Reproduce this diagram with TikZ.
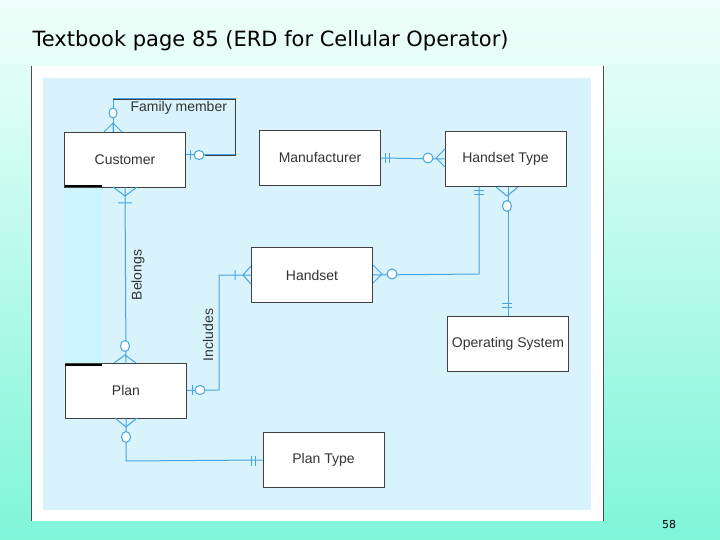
\documentclass[tikz,border=0pt]{standalone}
\usepackage{fontspec}
\setmainfont{Liberation Sans}
\newfontfamily\titlefont{DejaVu Sans}
\begin{document}
\begin{tikzpicture}[x=1pt,y=-1pt,
  ent/.style={draw=black!75,fill=white,line width=0.9pt,minimum width=121pt,minimum height=55pt,inner sep=0pt,font=\fontsize{14}{16}\selectfont,text=black!80},
  rel/.style={draw=cyan!75!blue!75,line width=1pt},
  circ/.style={rel,fill=white},
  lab/.style={font=\fontsize{14}{16}\selectfont,text=black!80,rotate=90}]
\definecolor{slideA}{HTML}{F0FFFA}\definecolor{slideB}{HTML}{7FF5DA}
\shade[top color=slideA,bottom color=slideB,shading angle=0] (0,0) rectangle (720,540);
\useasboundingbox (0,0) rectangle (720,540);
\node[anchor=west,font=\titlefont\fontsize{21}{24}\selectfont] (title) at (29,41) {Textbook page 85 (ERD for Cellular Operator)};
\node[font=\titlefont\fontsize{11}{13}\selectfont] (pg) at (669,524) {58};
\fill[white] (31,66) rectangle (604,521);
\draw[black!70,line width=1pt] (31.5,66) -- (31.5,521) (603.5,66) -- (603.5,521);
\fill[cyan!15!white] (43,78) rectangle (591,510);
\fill[blue!20!cyan!20!white] (65,187) rectangle (102,365);
\node[ent] (cust) at (125,159.5) {Customer};
\node[ent] (manu) at (320,158) {Manufacturer};
\node[ent] (ht) at (505.5,159) {Handset Type};
\node[ent] (hs) at (312,275) {Handset};
\node[ent] (os) at (508,343.5) {Operating System};
\node[ent] (plan) at (126,390.5) {Plan};
\node[ent] (pt) at (323.5,460) {Plan Type};
\draw[black,line width=2.5pt] (65,186) -- (102,186) (65,365) -- (102,365);
% Family member
\node[anchor=west,font=\fontsize{14}{16}\selectfont,text=black!80] (fmtxt) at (127,108) {Family member};
\draw[rel] (cust.north -| 113,0) -- (113,99) -- (235,99) -- (235,155) -- (cust.east |- 0,155);
\draw[rel] (104,132) -- (113,123) -- (122,132) (113,132) -- (113,123);
\draw[circ] (113,113) ellipse (4 and 5);
\draw[black!75,line width=0.9pt] (113,99) -- (235,99) -- (235,155) -- (205,155);
\draw[rel] (190,150) -- (190,160); \draw[circ] (199,155) ellipse (5 and 4.5);
% Belongs
\draw[rel] (cust.south) -- (plan.north);
\draw[rel] (113,187) -- (125,196) -- (137,187) (118,203) -- (132,203);
\draw[rel] (114,363) -- (125,355) -- (136,363);
\draw[circ] (125,346) ellipse (4.5 and 5.5);
\node[lab] (bl) at (138,275) {Belongs};
% Includes
\draw[rel] (plan.east) -- (219,390) -- (219,275) -- (hs.west);
\draw[rel] (192,385) -- (192,395); \draw[circ] (200,390) ellipse (5 and 4.5);
\draw[rel] (235,270) -- (235,280) (251,266) -- (243,275) -- (251,284);
\node[lab] (inc) at (208,335) {Includes};
% Plan - Plan Type
\draw[rel] (plan.south) -- (126,461) -- (pt.west);
\draw[rel] (115,418) -- (126,427) -- (137,418);
\draw[circ] (126,437) ellipse (4.5 and 5.5);
\draw[rel] (251,456) -- (251,466) (255,456) -- (255,466);
% Manufacturer - Handset Type
\draw[rel] (manu.east) -- (ht.west);
\draw[rel] (385,153) -- (385,163) (389,153) -- (389,163);
\draw[rel] (445,149) -- (436,158) -- (445,167);
\draw[circ] (428,158) ellipse (5 and 5);
% Handset - Handset Type
\draw[rel] (hs.east) -- (479,274) -- (ht.south -| 479,0);
\draw[rel] (373,265) -- (382,274) -- (373,283);
\draw[circ] (392,274) ellipse (5 and 5);
\draw[rel] (474,191) -- (484,191) (474,195) -- (484,195);
% Handset Type - OS
\draw[rel] (ht.south -| os.north) -- (os.north);
\draw[rel] (496,187) -- (507,196) -- (518,187);
\draw[circ] (507,206) ellipse (4.5 and 5.5);
\draw[rel] (502,303) -- (512,303) (502,307) -- (512,307);
\end{tikzpicture}
\end{document}
